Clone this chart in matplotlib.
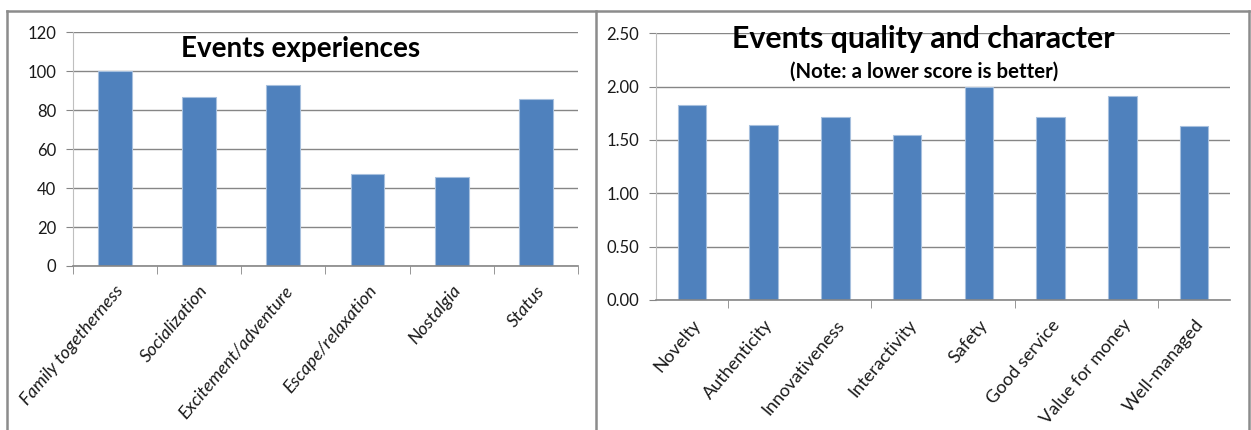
import matplotlib
matplotlib.use("Agg")
import matplotlib.pyplot as plt
from matplotlib.lines import Line2D
import numpy as np

# Event experience ratings
exp_categories = ["Family togetherness", "Socialization", "Excitement/adventure",
                  "Escape/relaxation", "Nostalgia", "Status"]
exp_values = [100, 87, 93, 47, 45.5, 86]
exp_ticks = [0, 20, 40, 60, 80, 100, 120]

# Event quality and character scores (lower is better)
qual_categories = ["Novelty", "Authenticity", "Innovativeness", "Interactivity",
                   "Safety", "Good service", "Value for money", "Well-managed"]
qual_values = [1.83, 1.64, 1.72, 1.55, 2.00, 1.72, 1.91, 1.63]
qual_ticks = [0.0, 0.5, 1.0, 1.5, 2.0, 2.5]

plt.rcParams['font.family'] = ['Lato', 'DejaVu Sans']

W, H = 1251, 430
fig = plt.figure(figsize=(W / 100, H / 100), dpi=100)

BAR = "#4F81BD"
EDGE = "#A7C0DE"
GRID = "#868686"
SPINE = "#BFBFBF"
TXT = "#1a1a1a"


def px_axes(x0, y_top, x1, y_bot):
    return fig.add_axes([x0 / W, 1 - y_bot / H, (x1 - x0) / W, (y_bot - y_top) / H])


def style(ax, ymax, yticks, fmt):
    ax.set_ylim(0, ymax)
    ax.set_yticks(yticks)
    ax.set_yticklabels([fmt(v) for v in yticks], fontsize=12, color=TXT)
    ax.yaxis.grid(True, color=GRID, linewidth=1.0)
    ax.set_axisbelow(True)
    for s in ("top", "right"):
        ax.spines[s].set_visible(False)
    ax.spines["left"].set_color(SPINE)
    ax.spines["bottom"].set_color(GRID)
    ax.spines["bottom"].set_linewidth(1.2)
    ax.tick_params(axis="y", length=5, color=GRID, pad=7)
    ax.tick_params(axis="x", which="major", length=0, pad=12)
    ax.tick_params(axis="x", which="minor", length=6, color=GRID)


# Left chart: experiences
ax1 = px_axes(72.7, 32.3, 578, 266)
x1 = np.arange(len(exp_categories))
ax1.bar(x1, exp_values, width=0.4, color=BAR, edgecolor=EDGE, linewidth=0.8)
ax1.set_xlim(-0.5, len(exp_categories) - 0.5)
style(ax1, 120, exp_ticks, lambda v: f"{v:d}")
ax1.set_xticks(x1)
ax1.set_xticklabels(exp_categories, rotation=50, ha="right", rotation_mode="anchor",
                    fontsize=13, style="italic", color=TXT)
ax1.set_xticks(np.arange(len(exp_categories) + 1) - 0.5, minor=True)
ax1.text(0.45, 0.93, "Events experiences", transform=ax1.transAxes, ha="center",
         va="center", fontsize=20, fontweight="bold")

# Right chart: quality and character
ax2 = px_axes(656, 33.3, 1230, 300)
x2 = np.arange(len(qual_categories))
ax2.bar(x2, qual_values, width=0.4, color=BAR, edgecolor=EDGE, linewidth=0.8)
ax2.set_xlim(-0.5, len(qual_categories) - 0.5)
style(ax2, 2.5, qual_ticks, lambda v: f"{v:.2f}")
ax2.set_xticks(x2)
ax2.set_xticklabels(qual_categories, rotation=50, ha="right", rotation_mode="anchor",
                    fontsize=13, color=TXT)
ax2.set_xticks([0.5, 2.5, 4.5, 6.5], minor=True)
ax2.text(0.465, 0.978, "Events quality and character", transform=ax2.transAxes,
         ha="center", va="center", fontsize=21.8, fontweight="bold")
ax2.text(0.467, 0.855, "(Note: a lower score is better)", transform=ax2.transAxes,
         ha="center", va="center", fontsize=14.7, fontweight="bold")

# Chart frames
frame = dict(color="#8C8C8C", linewidth=1.8, transform=fig.transFigure)
fx = lambda x: x / W
fy = lambda y: 1 - y / H
fig.add_artist(Line2D([fx(6.7), fx(1249)], [fy(11), fy(11)], **frame))
fig.add_artist(Line2D([fx(6.7), fx(6.7)], [fy(11), fy(430)], **frame))
fig.add_artist(Line2D([fx(596), fx(596)], [fy(11), fy(430)], **frame))
fig.add_artist(Line2D([fx(1249), fx(1249)], [fy(11), fy(430)], **frame))

fig.savefig("out.png", dpi=100)
